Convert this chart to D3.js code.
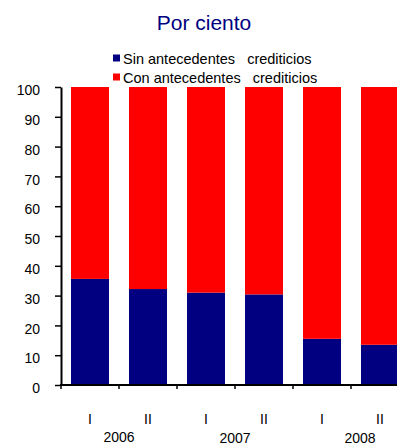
<!DOCTYPE html>
<html><head><meta charset="utf-8">
<script src="https://cdn.jsdelivr.net/npm/d3@7"></script>
<style>body{margin:0;background:#fff}svg text{font-family:"Liberation Sans",Arial,sans-serif;white-space:pre}</style>
</head><body>
<svg id="c" width="397" height="446"></svg>
<script>
const periods = ["I","II","I","II","I","II"];
const years = ["2006","2007","2008"];
const sinAnt = [35.6, 32.2, 31.0, 30.4, 15.5, 13.5];
const conAnt = sinAnt.map(v => 100 - v);
const yTicks = [0,10,20,30,40,50,60,70,80,90,100];
const seriesNames = ["Sin antecedentes   crediticios","Con antecedentes   crediticios"];
const colors = ["#000080","#ff0000"];

const svg = d3.select("#c");
const x0 = 61, y0 = 385, y1 = 87;
const x = d3.scaleBand().domain(d3.range(periods.length)).range([x0, x0 + 58*periods.length]).paddingInner(20/58).paddingOuter(10/58);
const y = d3.scaleLinear().domain([0,100]).range([y0, y1]);

svg.append("text").attr("x",204).attr("y",30).attr("text-anchor","middle")
  .attr("font-size",21).attr("fill","#000080").text("Por ciento");

seriesNames.forEach((n,i)=>{
  const ly = 54.5 + i*19;
  svg.append("rect").attr("x",113).attr("y",ly).attr("width",7).attr("height",7).attr("fill",colors[i]);
  svg.append("text").attr("x",123).attr("y",ly+9).attr("font-size",14.5).attr("fill","#000").text(n);
});

const g = svg.append("g");
g.selectAll(".s").data(sinAnt).join("rect").attr("x",(d,i)=>x(i)).attr("width",x.bandwidth())
  .attr("y",d=>y(d)).attr("height",d=>y(0)-y(d)).attr("fill",colors[0]);
g.selectAll(".c").data(conAnt).join("rect").attr("x",(d,i)=>x(i)).attr("width",x.bandwidth())
  .attr("y",(d,i)=>y(sinAnt[i]+d)).attr("height",d=>y(0)-y(d)).attr("fill",colors[1]);

// y axis
const ya = svg.append("g").attr("transform",`translate(${x0},0)`)
  .call(d3.axisLeft(y).tickValues(yTicks).tickSize(6).tickPadding(15).tickSizeOuter(0));
ya.select(".domain").attr("stroke","#000").attr("stroke-width",2);
ya.selectAll(".tick line").attr("stroke-width",1.5);
ya.selectAll("text").attr("font-size",14).attr("dy","0.55em").attr("font-family","Liberation Sans, Arial, sans-serif").attr("fill","#000");

// x axis
svg.append("line").attr("x1",x0-1).attr("x2",397).attr("y1",y0).attr("y2",y0).attr("stroke","#000").attr("stroke-width",2);
const step = x.step();
d3.range(periods.length+1).forEach(i=>{
  const tx = x0 + i*step;
  svg.append("line").attr("x1",tx).attr("x2",tx).attr("y1",y0).attr("y2",y0+4).attr("stroke","#000").attr("stroke-width",1.5);
});
svg.selectAll(".pl").data(periods).join("text").attr("x",(d,i)=>x(i)+x.bandwidth()/2).attr("y",423.5)
  .attr("text-anchor","middle").attr("font-size",14).attr("fill","#000").text(d=>d);
const yearOff = [0, 0, 9], yearBase = [441.5, 442.5, 442.5];
svg.selectAll(".yl").data(years).join("text").attr("x",(d,i)=>x0 + (2*i+1)*step + yearOff[i]).attr("y",(d,i)=>yearBase[i])
  .attr("text-anchor","middle").attr("font-size",14).attr("fill","#000").text(d=>d);
</script>
</body></html>
